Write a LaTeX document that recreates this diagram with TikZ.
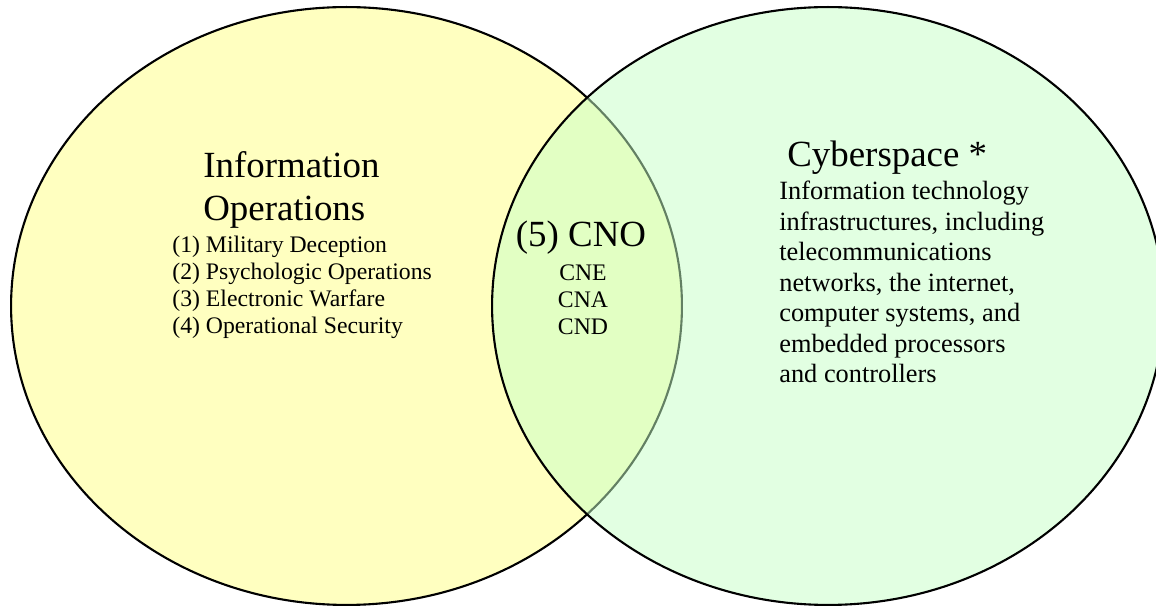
\documentclass[tikz,border=0pt]{standalone}
\usepackage{fontspec}
\setmainfont{Liberation Serif}
\usepackage{tikz}
\usetikzlibrary{positioning}
\definecolor{ioyellow}{RGB}{255,255,192}
\definecolor{cybgreen}{RGB}{198,255,198}

\begin{document}
\begin{tikzpicture}[x=0.02cm,y=-0.02cm,
    settitle/.style={inner sep=0pt,anchor=base west,font=\fontsize{21}{25}\selectfont},
    setitem/.style={inner sep=0pt,anchor=base west,font=\fontsize{13.5}{16}\selectfont},
    cybtext/.style={inner sep=0pt,anchor=base west,font=\fontsize{15}{18}\selectfont}]
        \useasboundingbox (0,0) rectangle (1156,607);
        \draw[fill=ioyellow,line width=1.2pt] (346.5,306) ellipse (6.71cm and 5.98cm);
        \draw[fill=cybgreen,fill opacity=0.5,line width=1.2pt] (828,306) ellipse (6.72cm and 5.98cm);
        % left set
        \node[settitle] (iotitle) at (203,178) {Information};
        \node[settitle] (ioops) at (203,221) {Operations};
        \foreach \iolabel [count=\i] in {Military Deception,Psychologic Operations,
            Electronic Warfare,Operational Security}
        \node[setitem] (io\i) at (172,226+27*\i) {(\i) \iolabel};
        % overlap
        \node[settitle,anchor=base] (cno) at (581,247) {(5) CNO};
        \foreach \cnolabel [count=\i] in {CNE,CNA,CND}
        \node[setitem,anchor=base] (cno\i) at (583,254+27*\i) {\cnolabel};
        % right set
        \node[settitle] (cyb) at (787,167) {Cyberspace *};
        \foreach \cyblabel [count=\i] in {Information technology,infrastructures{,} including,
            telecommunications,networks{,} the internet{,},computer systems{,} and,
            embedded processors,and controllers}
        \node[cybtext] (cyb\i) at (779,169.5+30.5*\i) {\cyblabel};
\end{tikzpicture}
\end{document}
